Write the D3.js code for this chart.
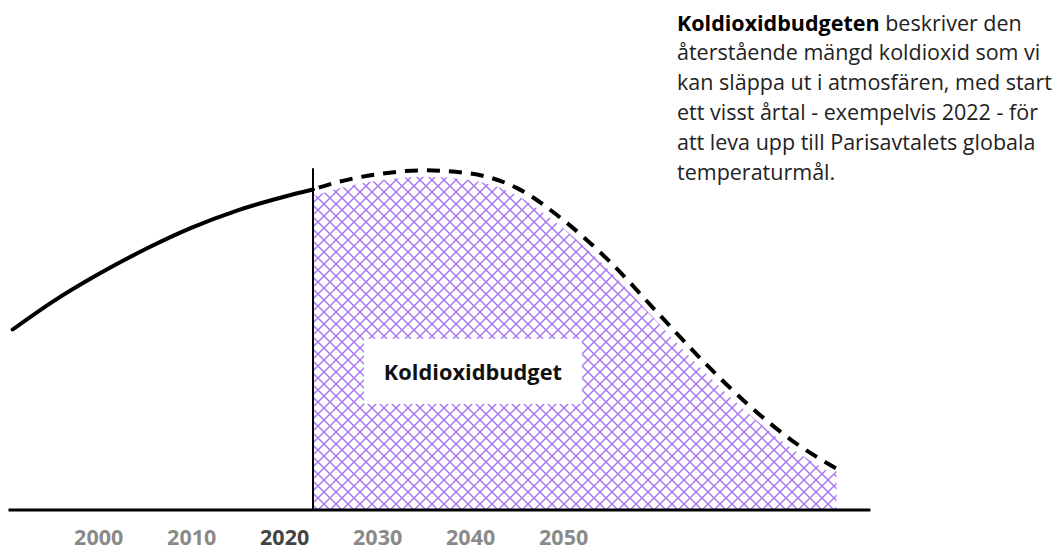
<!DOCTYPE html>
<html>
<head>
<meta charset="utf-8">
<script src="https://cdn.jsdelivr.net/npm/d3@7"></script>
<style>
  body { margin: 0; background: #fff; }
  svg { display: block; font-family: 'Open Sans', sans-serif; }
</style>
</head>
<body>
<div class="chart"></div>
<script>
// historiska utsläpp (år, värde)
const histYears = [1990.8, 1995, 2000, 2005, 2010, 2015, 2020, 2023.1];
const histValues = [22.5, 25.9, 29.4, 32.5, 35.2, 37.4, 39.1, 40.0];

// framtida bana = koldioxidbudgeten
const budgetYears = [2023.1, 2026, 2030, 2035, 2040, 2045, 2050, 2055, 2060, 2065, 2070, 2075, 2079.4];
const budgetValues = [40.0, 41.0, 41.9, 42.4, 42.0, 40.2, 36.2, 31.0, 24.8, 18.6, 13.0, 8.3, 5.1];

const tickYears = [2000, 2010, 2020, 2030, 2040, 2050];
const highlightYear = 2020;
const splitYear = 2023.1;

const budgetLabel = 'Koldioxidbudget';
const infoBold = 'Koldioxidbudgeten';
const infoLines = [
  ' beskriver den',
  'återstående mängd koldioxid som vi',
  'kan släppa ut i atmosfären, med start',
  'ett visst årtal - exempelvis 2022 - för',
  'att leva upp till Parisavtalets globala',
  'temperaturmål.'
];

const hist = histYears.map((y, i) => ({year: y, value: histValues[i]}));
const budget = budgetYears.map((y, i) => ({year: y, value: budgetValues[i]}));

const width = 1059, height = 549;
const svg = d3.select('.chart').append('svg')
  .attr('width', width).attr('height', height);

const xScale = d3.scaleLinear().domain([1990.3, 2083]).range([8, 870]);
const yScale = d3.scaleLinear().domain([0, 50]).range([509.5, 109.5]);

// skrafferingsmönster
const defs = svg.append('defs');
const pat = defs.append('pattern')
  .attr('id', 'hatch')
  .attr('patternUnits', 'userSpaceOnUse')
  .attr('width', 12).attr('height', 12);
pat.append('path')
  .attr('d', 'M0,0L12,12M12,0L0,12M-1,11L1,13M11,-1L13,1')
  .attr('stroke', '#a474f2')
  .attr('stroke-width', 1.4)
  .attr('fill', 'none');

const line = d3.line()
  .x(d => xScale(d.year))
  .y(d => yScale(d.value))
  .curve(d3.curveMonotoneX);

const area = d3.area()
  .x(d => xScale(d.year))
  .y0(yScale(0))
  .y1(d => yScale(d.value))
  .curve(d3.curveMonotoneX);

svg.append('path')
  .datum(budget)
  .attr('d', area)
  .attr('fill', 'url(#hatch)');

// vit kant mellan skraffering och streckad linje
svg.append('path')
  .datum(budget)
  .attr('d', line)
  .attr('fill', 'none')
  .attr('stroke', '#fff')
  .attr('stroke-width', 13);

svg.append('path')
  .datum(hist)
  .attr('d', line)
  .attr('fill', 'none')
  .attr('stroke', '#000')
  .attr('stroke-width', 4)
  .attr('stroke-linecap', 'round');

svg.append('path')
  .datum(budget)
  .attr('d', line)
  .attr('fill', 'none')
  .attr('stroke', '#000')
  .attr('stroke-width', 4)
  .attr('stroke-dasharray', '13,9')
  .attr('stroke-dashoffset', -6);

// lodrät linje vid start
svg.append('line')
  .attr('x1', xScale(splitYear)).attr('x2', xScale(splitYear))
  .attr('y1', yScale(d3.max(budgetValues)) - 2)
  .attr('y2', yScale(0))
  .attr('stroke', '#000')
  .attr('stroke-width', 2);

// x-axel
const xAxis = d3.axisBottom(xScale)
  .tickValues(tickYears)
  .tickFormat(d3.format('d'))
  .tickSize(0)
  .tickPadding(20.5);
const gx = svg.append('g')
  .attr('transform', `translate(0,${yScale(0)})`)
  .call(xAxis);
gx.select('.domain').attr('stroke', '#000').attr('stroke-width', 3);
gx.selectAll('.tick text')
  .style('font-family', "'Open Sans', sans-serif")
  .style('font-size', '21.5px')
  .style('font-weight', 700)
  .attr('fill', d => d === highlightYear ? '#444' : '#8a8a8a');

// etikett i mitten
const lx = xScale(2040.3), ly = yScale(17.2);
svg.append('rect')
  .attr('x', lx - 109).attr('y', ly - 33)
  .attr('width', 218).attr('height', 65)
  .attr('fill', '#fff');
svg.append('text')
  .attr('x', lx).attr('y', ly)
  .attr('text-anchor', 'middle')
  .attr('dominant-baseline', 'central')
  .style('font-size', '21.8px')
  .style('font-weight', 700)
  .attr('fill', '#111')
  .text(budgetLabel);

// förklarande text
const info = svg.append('text')
  .attr('x', 677).attr('y', 30.5)
  .style('font-size', '21.5px')
  .attr('fill', '#222');
infoLines.forEach((t, i) => {
  const ts = info.append('tspan');
  if (i === 0) {
    ts.attr('x', 677).attr('y', 30.5);
    ts.append('tspan').style('font-weight', 700).attr('fill', '#000').text(infoBold);
    ts.append('tspan').text(t);
  } else {
    ts.attr('x', 677).attr('y', 30.5 + i * 29.8).text(t);
  }
});
</script>
</body>
</html>
